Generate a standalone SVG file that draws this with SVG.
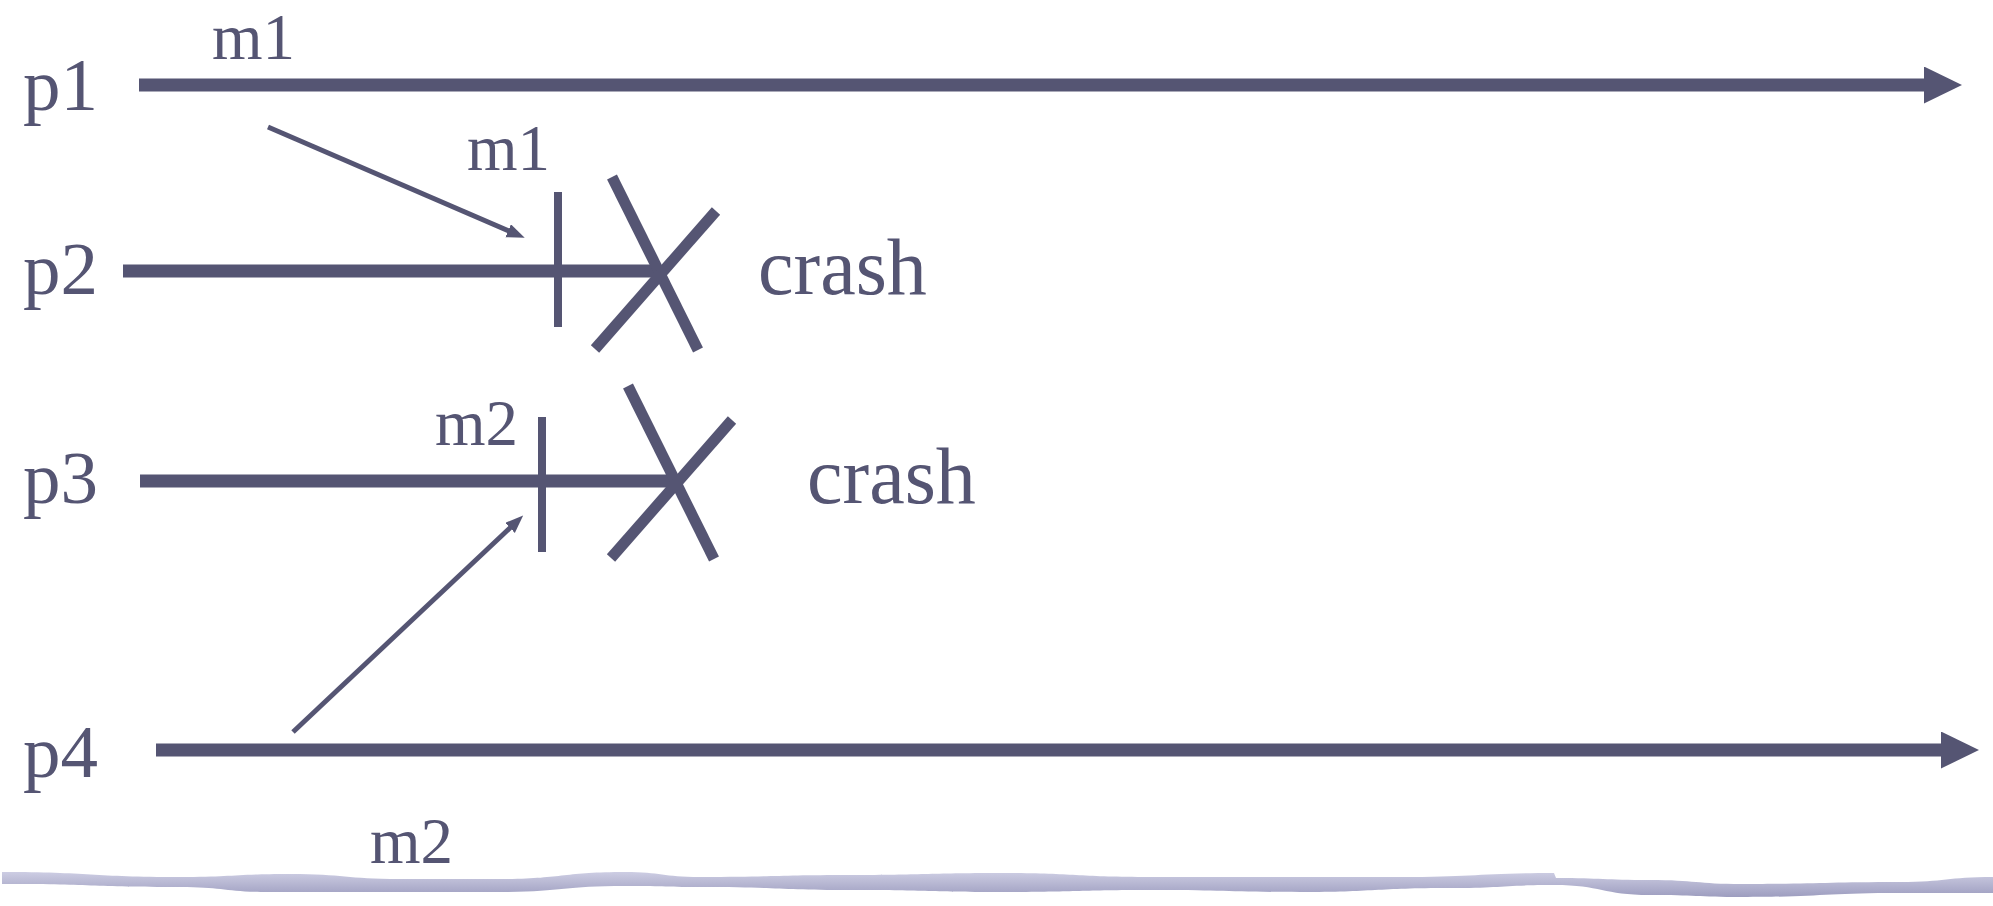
<svg xmlns="http://www.w3.org/2000/svg" width="1993" height="906" viewBox="0 0 1993 906">
<style>
.t{font-family:"Liberation Serif","Times New Roman",serif;fill:#555573}
.lbl{font-size:75px}
.msg{font-size:65px}
.cr{font-size:80px}
.life{stroke:#555573;stroke-width:13;fill:none}
.tick{stroke:#555573;stroke-width:8}
.x{stroke:#555573;stroke-width:11}
.m{stroke:#555573;stroke-width:5}
</style>
<defs>
<marker id="big" markerUnits="userSpaceOnUse" markerWidth="40" markerHeight="38" refX="1" refY="18.5" orient="auto">
<path d="M0,0 L38,18.5 L0,37 z" fill="#555573"/>
</marker>
<marker id="small" markerUnits="userSpaceOnUse" markerWidth="20" markerHeight="16" refX="2" refY="7" orient="auto">
<path d="M0,0 L18,7 L0,14 z" fill="#555573"/>
</marker>
<linearGradient id="band" x1="0" y1="0" x2="0" y2="1">
<stop offset="0" stop-color="#cdcde3"/>
<stop offset="1" stop-color="#9d9dbf"/>
</linearGradient>
</defs>
<g id="p1">
<text class="t lbl" x="23" y="110">p1</text>
<line class="life" x1="139" y1="85" x2="1925" y2="85" marker-end="url(#big)"/>
</g>
<g id="p2">
<text class="t lbl" x="23" y="294">p2</text>
<line class="life" x1="123" y1="271" x2="658" y2="271"/>
<line class="tick" x1="558" y1="192" x2="558" y2="327"/>
<line class="x" x1="612" y1="177" x2="698" y2="350"/>
<line class="x" x1="716" y1="211" x2="595" y2="349"/>
<text class="t cr" x="758" y="294">crash</text>
</g>
<g id="p3">
<text class="t lbl" x="23" y="503">p3</text>
<line class="life" x1="140" y1="481" x2="675" y2="481"/>
<line class="tick" x1="542" y1="417" x2="542" y2="552"/>
<line class="x" x1="628" y1="386" x2="714" y2="559"/>
<line class="x" x1="732" y1="420" x2="611" y2="558"/>
<text class="t cr" x="807" y="503">crash</text>
</g>
<g id="p4">
<text class="t lbl" x="23" y="777">p4</text>
<line class="life" x1="156" y1="750" x2="1942" y2="750" marker-end="url(#big)"/>
</g>
<g id="connectors">
<line class="m" x1="268" y1="127" x2="510" y2="231.5" marker-end="url(#small)"/>
<text class="t msg" x="212" y="59">m1</text>
<text class="t msg" x="467" y="170">m1</text>
<line class="m" x1="293" y1="732" x2="511.5" y2="526.5" marker-end="url(#small)"/>
<text class="t msg" x="435" y="445">m2</text>
<text class="t msg" x="370" y="863">m2</text>
</g>
<path id="band-shape" fill="url(#band)" d="M2,872 C91,872 91,877 180,877 C235,877 235,874 290,874 C345,874 345,879 400,879 L500,879 C562,879 562,872 625,872 C662,872 662,877 700,877 C775,877 775,875 850,875 C925,875 925,873 1000,873 C1075,873 1075,877 1150,877 L1400,877 C1477,877 1477,873 1554,873 L1556,878 C1603,878 1603,880 1650,880 C1696,880 1696,884 1742,884 C1821,884 1821,882 1900,882 C1946,882 1946,877 1993,877 L1993,893 L1900,893 C1821,893 1821,897 1742,897 C1696,897 1696,895 1650,895 C1602,895 1602,885 1554,885 C1502,885 1502,888 1450,888 C1375,888 1375,892 1300,892 C1225,892 1225,890 1150,890 C1075,890 1075,892 1000,892 C925,892 925,890 850,890 C775,890 775,887 700,887 C662,887 662,886 625,886 C562,886 562,892 500,892 L268,892 C224,892 224,887 180,887 C91,887 91,884 2,884 Z"/>
</svg>
